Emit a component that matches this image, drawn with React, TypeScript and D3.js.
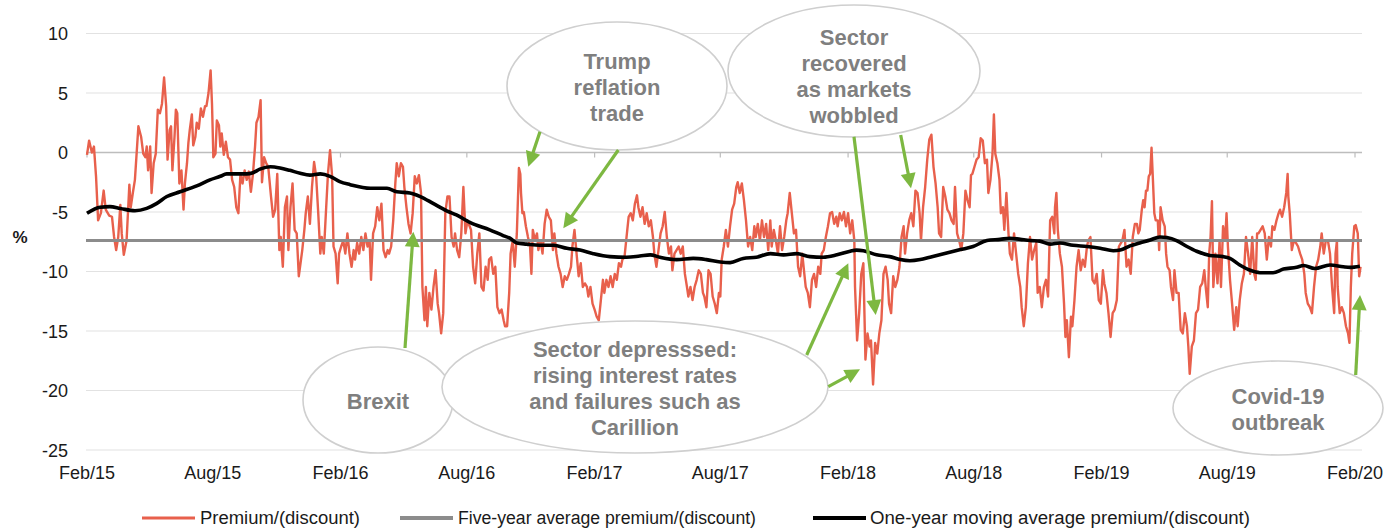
import React from "react";
import * as d3 from "d3";

// ---------- DATA ----------
// Day offsets from 1 Feb 2015 and premium/(discount) in %
const START = new Date(2015, 1, 1);
const END = new Date(2020, 1, 1);

const premium: [number, number][] = [
  [0,-0.2],[3,1.0],[7,0],[10,0.5],[13,-2],[16,-5.7],[20,-5.1],[24,-3.2],[27,-4.8],[32,-5.3],[36,-5.4],[39,-7.1],[42,-8.2],[45,-7.1],[48,-4.4],[50,-6.8],[53,-8.6],[57,-7.4],[61,-2.7],[63,-4.6],[66,-3.4],[69,-2.3],[74,2.2],[78,1.3],[81,-0.1],[84,-0.4],[86,0.5],[88,-1.5],[91,0.5],[93,-3.4],[96,-0.9],[99,-0.1],[102,3.6],[105,3.3],[108,4.1],[111,6.3],[114,3.9],[116,-0.6],[119,1.9],[121,2.2],[123,-1.5],[126,1.3],[128,3.6],[130,3.3],[133,-2.6],[136,-1.5],[139,-4.8],[141,-2.6],[144,-0.9],[146,0.8],[148,1.9],[151,3.2],[153,0.6],[156,1.3],[158,2.5],[161,2.0],[164,3.7],[167,3.0],[170,3.9],[172,3.9],[175,5.0],[178,6.9],[180,4.1],[182,-0.4],[185,-0.1],[187,2.7],[190,2.3],[192,0.5],[194,1.6],[197,-0.2],[200,0.9],[203,-0.4],[206,-0.6],[209,-2.3],[212,-2.9],[215,-4.6],[218,-5.1],[221,-1.8],[224,-2.6],[227,-1.5],[230,-2.3],[233,-1.6],[236,-3.3],[239,-1.8],[242,0.5],[244,2.5],[247,3.0],[250,4.4],[252,-2.5],[255,-0.4],[258,-0.9],[261,-1.2],[265,-3.7],[268,-5.4],[271,-4.8],[274,-1.8],[277,-8.2],[279,-7.1],[282,-9.6],[285,-4.6],[288,-3.7],[290,-8.2],[293,-4.6],[296,-2.6],[299,-6.5],[302,-6.8],[305,-10.4],
  [310,-8.2],[313,-6.5],[315,-5.1],[318,-3.7],[321,-6.0],[324,-2.9],[327,-0.8],[330,-2.0],[333,-5.1],[336,-8.5],[338,-7.1],[341,-8.5],[344,-5.1],[347,-1.8],[350,0.2],[353,-2.0],[355,-7.9],[358,-8.5],[361,-11.0],[363,-8.5],[366,-7.9],[369,-7.4],[372,-8.5],[375,-6.8],[378,-8.5],[381,-9.6],[384,-8.2],[386,-9.0],[389,-7.6],[392,-8.5],[395,-7.1],[398,-8.2],[401,-6.8],[404,-7.9],[407,-7.4],[409,-10.7],[412,-6.8],[415,-6.2],[418,-4.6],[421,-5.7],[424,-4.3],[427,-8.2],[430,-8.8],[433,-8.2],[435,-8.5],[438,-7.9],[441,-5.7],[444,-2.6],[446,-0.9],[449,-2.0],[452,-0.9],[455,-1.2],[457,-2.9],[460,-4.6],[463,-6.0],[466,-6.8],[469,-5.1],[472,-2.0],[475,-2.6],[478,-1.9],[481,-3.4],[483,-11.3],[486,-14.1],[488,-11.3],[490,-14.6],[493,-11.8],[496,-13.2],[499,-11.3],[502,-9.9],[505,-12.7],[507,-13.5],[510,-15.2],[513,-13.5],[516,-5.1],[519,-3.7],[522,-3.7],[525,-7.1],[528,-7.9],[530,-6.8],[533,-8.2],[536,-8.8],[539,-6.8],[542,-2.9],[545,-6.8],[548,-5.7],[551,-6.2],[553,-6.5],[556,-9.6],[559,-11.0],[562,-8.5],[565,-6.8],[568,-11.3],[571,-11.6],[574,-9.6],[577,-10.7],[579,-9.0],[582,-8.8],[585,-10.2],[588,-9.6],[591,-13.0],[594,-13.5],[597,-13.2],[600,-14.1],[602,-14.6],[605,-14.6],[608,-11.8],
  [610,-8.5],[613,-7.4],[616,-9.6],[619,-6.8],[622,-1.3],[624,-1.8],[625,-3.4],[627,-5.1],[629,-5.0],[632,-6.2],[635,-7.1],[638,-7.9],[640,-10.2],[642,-6.5],[645,-7.4],[648,-6.8],[650,-8.2],[653,-7.4],[656,-8.5],[659,-6.0],[662,-4.8],[665,-5.4],[668,-5.7],[671,-8.2],[673,-6.8],[676,-8.5],[679,-9.6],[682,-10.2],[685,-11.3],[688,-10.4],[691,-10.7],[694,-10.2],[697,-9.6],[699,-7.9],[702,-6.5],[705,-8.5],[708,-10.4],[711,-9.3],[714,-11.3],[717,-11.0],[720,-11.3],[722,-12.1],[725,-11.3],[728,-12.7],[731,-13.2],[734,-13.8],[737,-14.1],[740,-12.4],[743,-10.7],[745,-11.8],[748,-10.7],[751,-11.3],[754,-10.4],[757,-11.3],[760,-10.2],[763,-10.7],[766,-9.3],[769,-9.6],[771,-9.0],[774,-8.8],[777,-7.1],[780,-5.4],[783,-5.1],[786,-5.7],[789,-4.3],[792,-3.6],[794,-4.6],[797,-5.4],[800,-4.6],[803,-6.0],[806,-5.1],[809,-6.2],[812,-5.7],[815,-7.1],[817,-8.5],[820,-9.6],[823,-8.2],[826,-6.8],[829,-6.2],[832,-5.0],[835,-7.1],[838,-8.5],[841,-7.9],[843,-9.9],[846,-8.5],[849,-8.2],[852,-7.9],[855,-8.5],[858,-7.9],[861,-10.2],[864,-11.3],[866,-12.1],[869,-11.3],[872,-12.4],[875,-11.3],[878,-10.7],[881,-9.9],[884,-10.2],[887,-11.8],[889,-12.1],[892,-13.0],[895,-9.9],[898,-10.2],[901,-12.1],[904,-12.7],[907,-13.5],[910,-11.8],
  [912,-12.1],[914,-9.0],[917,-7.9],[920,-6.5],[923,-7.9],[926,-6.2],[929,-4.8],[932,-4.3],[935,-2.9],[937,-2.5],[940,-3.4],[943,-2.6],[946,-4.0],[949,-5.7],[952,-7.9],[955,-7.1],[958,-8.2],[961,-6.2],[963,-7.1],[966,-6.0],[969,-7.4],[972,-5.7],[975,-7.1],[978,-6.0],[981,-8.2],[984,-5.7],[986,-7.9],[989,-6.5],[992,-7.4],[995,-8.5],[998,-6.2],[1001,-8.2],[1004,-7.1],[1007,-5.7],[1009,-5.1],[1012,-3.4],[1015,-5.1],[1018,-6.8],[1021,-6.5],[1024,-9.6],[1027,-10.4],[1030,-8.5],[1033,-10.2],[1035,-11.3],[1038,-11.8],[1041,-13.0],[1044,-10.7],[1047,-10.2],[1050,-11.3],[1053,-9.6],[1056,-10.2],[1058,-8.5],[1061,-8.2],[1064,-7.1],[1067,-6.2],[1070,-5.1],[1073,-5.0],[1076,-6.0],[1079,-5.4],[1081,-6.2],[1084,-5.1],[1087,-5.7],[1090,-5.0],[1093,-6.2],[1096,-5.1],[1099,-6.8],[1102,-5.7],[1105,-7.4],[1106,-11.3],[1109,-15.8],[1112,-13.5],[1115,-10.2],[1118,-9.3],[1121,-17.4],[1124,-15.2],[1127,-16.3],[1129,-15.8],[1132,-19.5],[1135,-16.0],[1138,-16.9],[1141,-15.2],[1144,-14.1],[1147,-10.2],[1150,-9.6],[1153,-10.7],[1155,-12.7],[1158,-13.5],[1161,-10.4],[1164,-11.3],[1167,-10.7],[1170,-9.6],[1173,-7.1],[1176,-6.2],[1178,-8.5],[1181,-6.8],[1184,-5.7],[1187,-5.1],[1190,-6.2],[1193,-3.2],[1196,-3.4],[1199,-5.1],[1201,-7.4],[1204,-4.6],[1207,-2.9],[1210,-0.6],[1213,1.1],
  [1216,1.5],[1219,-1.2],[1222,-2.6],[1225,-4.6],[1227,-6.8],[1230,-7.1],[1233,-2.9],[1236,-3.7],[1239,-4.8],[1242,-5.1],[1245,-5.7],[1248,-6.0],[1250,-2.9],[1253,-6.8],[1256,-7.4],[1259,-8.2],[1262,-6.8],[1265,-3.2],[1268,-4.0],[1271,-4.6],[1273,-1.9],[1275,-1.8],[1278,-1.2],[1281,-0.6],[1284,-0.4],[1287,1.2],[1290,1.0],[1293,-0.9],[1296,-0.6],[1298,-3.4],[1301,-2.3],[1304,-0.1],[1306,3.2],[1308,-0.1],[1311,-0.9],[1314,-2.3],[1316,-5.1],[1319,-4.6],[1321,-6.5],[1324,-3.4],[1327,-6.8],[1329,-8.5],[1332,-9.0],[1335,-6.8],[1338,-8.5],[1341,-10.2],[1344,-11.3],[1346,-13.0],[1349,-14.6],[1352,-13.0],[1355,-9.3],[1358,-7.1],[1361,-9.0],[1364,-8.2],[1367,-7.6],[1369,-11.8],[1372,-11.3],[1375,-13.0],[1378,-11.3],[1381,-10.7],[1384,-12.1],[1387,-5.7],[1390,-5.4],[1393,-6.8],[1394,-4.6],[1396,-3.4],[1398,-6.5],[1401,-8.5],[1404,-9.6],[1407,-12.7],[1409,-15.5],[1411,-14.1],[1414,-17.2],[1417,-13.8],[1419,-14.6],[1422,-12.4],[1425,-9.6],[1428,-8.2],[1431,-9.9],[1434,-9.0],[1437,-9.6],[1440,-7.9],[1442,-7.4],[1445,-7.1],[1448,-10.7],[1451,-11.0],[1454,-10.2],[1457,-12.4],[1460,-12.7],[1463,-9.9],[1465,-11.0],[1468,-11.8],[1471,-13.5],[1474,-15.5],[1477,-13.5],[1480,-13.2],[1483,-12.4],[1486,-7.9],[1489,-7.6],[1491,-7.4],[1494,-6.5],[1497,-9.6],[1500,-9.0],[1503,-10.2],[1506,-7.1],[1509,-6.0],[1512,-6.0],[1514,-6.8],
  [1516,-6.5],[1519,-4.8],[1521,-4.0],[1523,-4.6],[1525,-3.2],[1527,-3.2],[1529,-2.0],[1531,-1.8],[1533,0.4],[1535,-2.3],[1537,-5.1],[1539,-5.7],[1542,-5.7],[1544,-8.2],[1546,-4.6],[1549,-5.7],[1552,-6.2],[1554,-8.5],[1556,-9.6],[1559,-9.9],[1561,-11.3],[1564,-12.4],[1566,-9.9],[1569,-11.8],[1572,-11.8],[1575,-14.9],[1578,-15.2],[1581,-13.5],[1584,-14.6],[1586,-16.3],[1588,-18.6],[1591,-16.3],[1594,-15.8],[1597,-13.5],[1600,-13.2],[1603,-11.3],[1606,-11.0],[1609,-9.9],[1611,-11.3],[1614,-13.0],[1616,-8.5],[1618,-7.1],[1620,-4.1],[1622,-11.3],[1625,-8.5],[1628,-11.0],[1631,-7.4],[1633,-11.3],[1636,-6.2],[1639,-7.4],[1641,-5.1],[1643,-7.9],[1646,-10.7],[1649,-12.7],[1652,-14.9],[1655,-13.0],[1657,-14.6],[1660,-12.4],[1663,-11.0],[1666,-10.2],[1669,-7.1],[1672,-8.5],[1675,-10.2],[1678,-7.1],[1681,-10.2],[1683,-10.7],[1685,-6.8],[1687,-6.8],[1690,-6.5],[1693,-6.2],[1696,-6.8],[1699,-9.0],[1702,-7.1],[1705,-7.9],[1707,-6.2],[1710,-6.5],[1713,-5.7],[1716,-5.1],[1718,-4.8],[1721,-5.4],[1724,-4.6],[1727,-3.4],[1729,-1.8],[1730,-3.7],[1732,-5.1],[1735,-8.2],[1738,-7.4],[1741,-7.6],[1744,-7.9],[1747,-8.5],[1750,-9.0],[1753,-10.2],[1755,-11.8],[1758,-12.7],[1761,-13.0],[1764,-13.5],[1767,-11.3],[1770,-9.6],[1773,-9.0],[1776,-7.9],[1778,-6.8],[1781,-8.5],[1784,-7.4],[1787,-7.4],[1790,-8.5],[1793,-11.3],[1796,-13.5],[1798,-8.5],[1800,-7.4],[1801,-11.3],[1804,-13.5],[1807,-13.0],[1810,-13.5],[1813,-14.6],[1816,-15.2],[1818,-16.0],[1820,-11.3],[1822,-8.5],[1825,-6.2],[1827,-6.1],[1830,-6.8],[1832,-10.4],[1834,-9.6],
];

const movingAverage: [number, number][] = [
  [0,-5.1],[19,-4.6],[33,-4.55],[48,-4.7],[69,-4.9],[86,-4.7],[100,-4.3],[115,-3.7],[134,-3.3],[158,-2.8],[177,-2.3],[192,-2.0],[201,-1.8],[230,-1.8],[239,-1.7],[249,-1.4],[264,-1.2],[278,-1.3],[292,-1.5],[307,-1.75],[321,-1.9],[336,-1.8],[350,-2.0],[364,-2.45],[379,-2.7],[408,-3.0],[432,-3.0],[446,-3.3],[465,-3.4],[480,-3.7],[499,-4.3],[518,-4.9],[532,-5.25],[552,-5.9],[580,-6.5],[600,-7.0],[609,-7.2],[619,-7.6],[633,-7.7],[652,-7.8],[672,-7.8],[691,-8.05],[710,-8.2],[729,-8.5],[753,-8.75],[777,-8.8],[796,-8.7],[811,-8.6],[825,-8.8],[849,-9.0],[873,-8.9],[892,-9.0],[912,-9.2],[926,-9.25],[945,-8.9],[964,-8.8],[984,-8.5],[1003,-8.6],[1022,-8.5],[1041,-8.75],[1060,-8.8],[1080,-8.6],[1099,-8.3],[1108,-8.2],[1118,-8.25],[1137,-8.6],[1156,-8.75],[1171,-9.0],[1185,-9.1],[1200,-9.0],[1214,-8.8],[1228,-8.6],[1248,-8.3],[1262,-8.1],[1276,-7.9],[1296,-7.4],[1315,-7.3],[1329,-7.2],[1344,-7.3],[1358,-7.4],[1372,-7.45],[1387,-7.7],[1401,-7.6],[1420,-7.8],[1440,-7.9],[1459,-8.05],[1478,-8.25],[1488,-8.2],[1502,-7.85],[1516,-7.6],[1531,-7.35],[1545,-7.1],[1555,-7.15],[1569,-7.4],[1584,-7.9],[1598,-8.3],[1617,-8.65],[1636,-8.75],[1646,-8.9],[1660,-9.45],[1675,-9.9],[1689,-10.1],[1708,-10.1],[1723,-9.8],[1742,-9.65],[1752,-9.5],[1768,-9.75],[1790,-9.45],[1809,-9.6],[1819,-9.65],[1833,-9.55],
];

const fiveYearAverage = -7.4;
const yTicks = [10, 5, 0, -5, -10, -15, -20, -25];

const seriesNames = [
  "Premium/(discount)",
  "Five-year average premium/(discount)",
  "One-year moving average premium/(discount)",
];

// ---------- STYLE / LAYOUT ----------
const W = 1386, H = 529;
const FONT = "'Liberation Sans', Arial, Helvetica, sans-serif";
const RED = "#e8604c";
const GREY = "#8c8c8c";
const GREEN = "#7db841";
const NOTE_GREY = "#7f7f7f";

const notes = [
  { cx: 617, cy: 86, rx: 110, ry: 64, tcy: 87, lines: ["Trump", "reflation", "trade"] },
  { cx: 854, cy: 71, rx: 126, ry: 66, tcy: 76, lines: ["Sector", "recovered", "as markets", "wobbled"] },
  { cx: 378, cy: 400, rx: 75, ry: 53, tcy: 401, lines: ["Brexit"] },
  { cx: 635, cy: 387, rx: 193, ry: 66, tcy: 388, lines: ["Sector depresssed:", "rising interest rates", "and failures such as", "Carillion"] },
  { cx: 1278, cy: 408, rx: 105, ry: 47, tcy: 409, lines: ["Covid-19", "outbreak"] },
];

const arrows = [
  [405, 348, 413.3, 231.7],
  [540, 131.7, 528.3, 166.7],
  [618.3, 150, 563.3, 228.3],
  [806.7, 355, 848.3, 263.3],
  [828.3, 386.7, 860, 369.3],
  [854, 136.7, 875.7, 315],
  [900.7, 135, 911, 188.3],
  [1355.7, 375, 1360, 295],
];

function Arrow({ a }: { a: number[] }) {
  const [x1, y1, x2, y2] = a;
  const dx = x2 - x1, dy = y2 - y1;
  const len = Math.hypot(dx, dy);
  const ux = dx / len, uy = dy / len;
  const hl = 15, hw = 7.5;
  const bx = x2 - ux * hl, by = y2 - uy * hl;
  const px = -uy, py = ux;
  const pts = `${x2},${y2} ${bx + px * hw},${by + py * hw} ${bx - px * hw},${by - py * hw}`;
  return (
    <g>
      <line x1={x1} y1={y1} x2={bx + ux * 2} y2={by + uy * 2} stroke={GREEN} strokeWidth={3.2} />
      <polygon points={pts} fill={GREEN} />
    </g>
  );
}

export default function App() {
  const toDate = (d: number) => d3.timeDay.offset(START, d);
  const x = d3.scaleTime().domain([START, END]).range([87, 1355]);
  const y = d3.scaleLinear().domain([-25, 10]).range([450, 33.5]);
  const gridX0 = 86, gridX1 = 1362;

  const line = d3.line<[number, number]>()
    .x((d) => x(toDate(d[0])))
    .y((d) => y(d[1]));
  const smooth = d3.line<[number, number]>()
    .x((d) => x(toDate(d[0])))
    .y((d) => y(d[1]))
    .curve(d3.curveMonotoneX);

  const xTicks = d3.timeMonth.range(START, d3.timeDay.offset(END, 1), 6);
  const fmt = d3.timeFormat("%b/%y");

  return (
    <svg width={W} height={H} style={{ position: "absolute", left: 0, top: 0, background: "#fff" }} fontFamily={FONT}>
      {/* gridlines */}
      {yTicks.map((t) => (
        <line key={t} x1={gridX0} x2={gridX1} y1={y(t)} y2={y(t)} stroke={t === 0 ? "#bdbdbd" : "#e2e2e2"} strokeWidth={t === 0 ? 1.5 : 1.2} />
      ))}
      {/* x ticks on zero line */}
      {xTicks.map((t, i) => (
        <line key={i} x1={x(t)} x2={x(t)} y1={y(0)} y2={y(0) + 5} stroke="#bdbdbd" strokeWidth={1.2} />
      ))}
      {/* y labels */}
      {yTicks.map((t) => (
        <text key={t} x={68} y={y(t) + 6.5} textAnchor="end" fontSize={18} fill="#1a1a1a">{t}</text>
      ))}
      <text x={20} y={243} textAnchor="middle" fontSize={17} fontWeight="bold" fill="#1a1a1a">%</text>
      {/* x labels */}
      {xTicks.map((t, i) => (
        <text key={i} x={x(t)} y={479} textAnchor="middle" fontSize={18} fill="#1a1a1a">{fmt(t)}</text>
      ))}

      {/* series */}
      <path d={line(premium) || ""} fill="none" stroke={RED} strokeWidth={2.4} strokeLinejoin="round" />
      <line x1={gridX0} x2={gridX1} y1={y(fiveYearAverage)} y2={y(fiveYearAverage)} stroke={GREY} strokeWidth={3} />
      <path d={smooth(movingAverage) || ""} fill="none" stroke="#000" strokeWidth={3.6} strokeLinejoin="round" />

      {/* annotations */}
      {notes.map((n, i) => (
        <g key={i}>
          <ellipse cx={n.cx} cy={n.cy} rx={n.rx} ry={n.ry} fill="#fff" stroke="#cfcfcf" strokeWidth={1.6} />
          {n.lines.map((l, j) => (
            <text key={j} x={n.cx} y={n.tcy + (j - (n.lines.length - 1) / 2) * 26 + 8} textAnchor="middle" fontSize={22} fontWeight="bold" fill={NOTE_GREY}>{l}</text>
          ))}
        </g>
      ))}
      {arrows.map((a, i) => <Arrow key={i} a={a} />)}

      {/* legend */}
      <line x1={142} x2={195} y1={518} y2={518} stroke={RED} strokeWidth={3} />
      <text x={200} y={524} fontSize={18} fill="#1a1a1a" textLength={160} lengthAdjust="spacingAndGlyphs">{seriesNames[0]}</text>
      <line x1={400} x2={453} y1={518} y2={518} stroke={GREY} strokeWidth={4} />
      <text x={458} y={524} fontSize={18} fill="#1a1a1a" textLength={298} lengthAdjust="spacingAndGlyphs">{seriesNames[1]}</text>
      <line x1={813} x2={866} y1={518} y2={518} stroke="#000" strokeWidth={4} />
      <text x={870} y={524} fontSize={18} fill="#1a1a1a" textLength={380} lengthAdjust="spacingAndGlyphs">{seriesNames[2]}</text>
    </svg>
  );
}
